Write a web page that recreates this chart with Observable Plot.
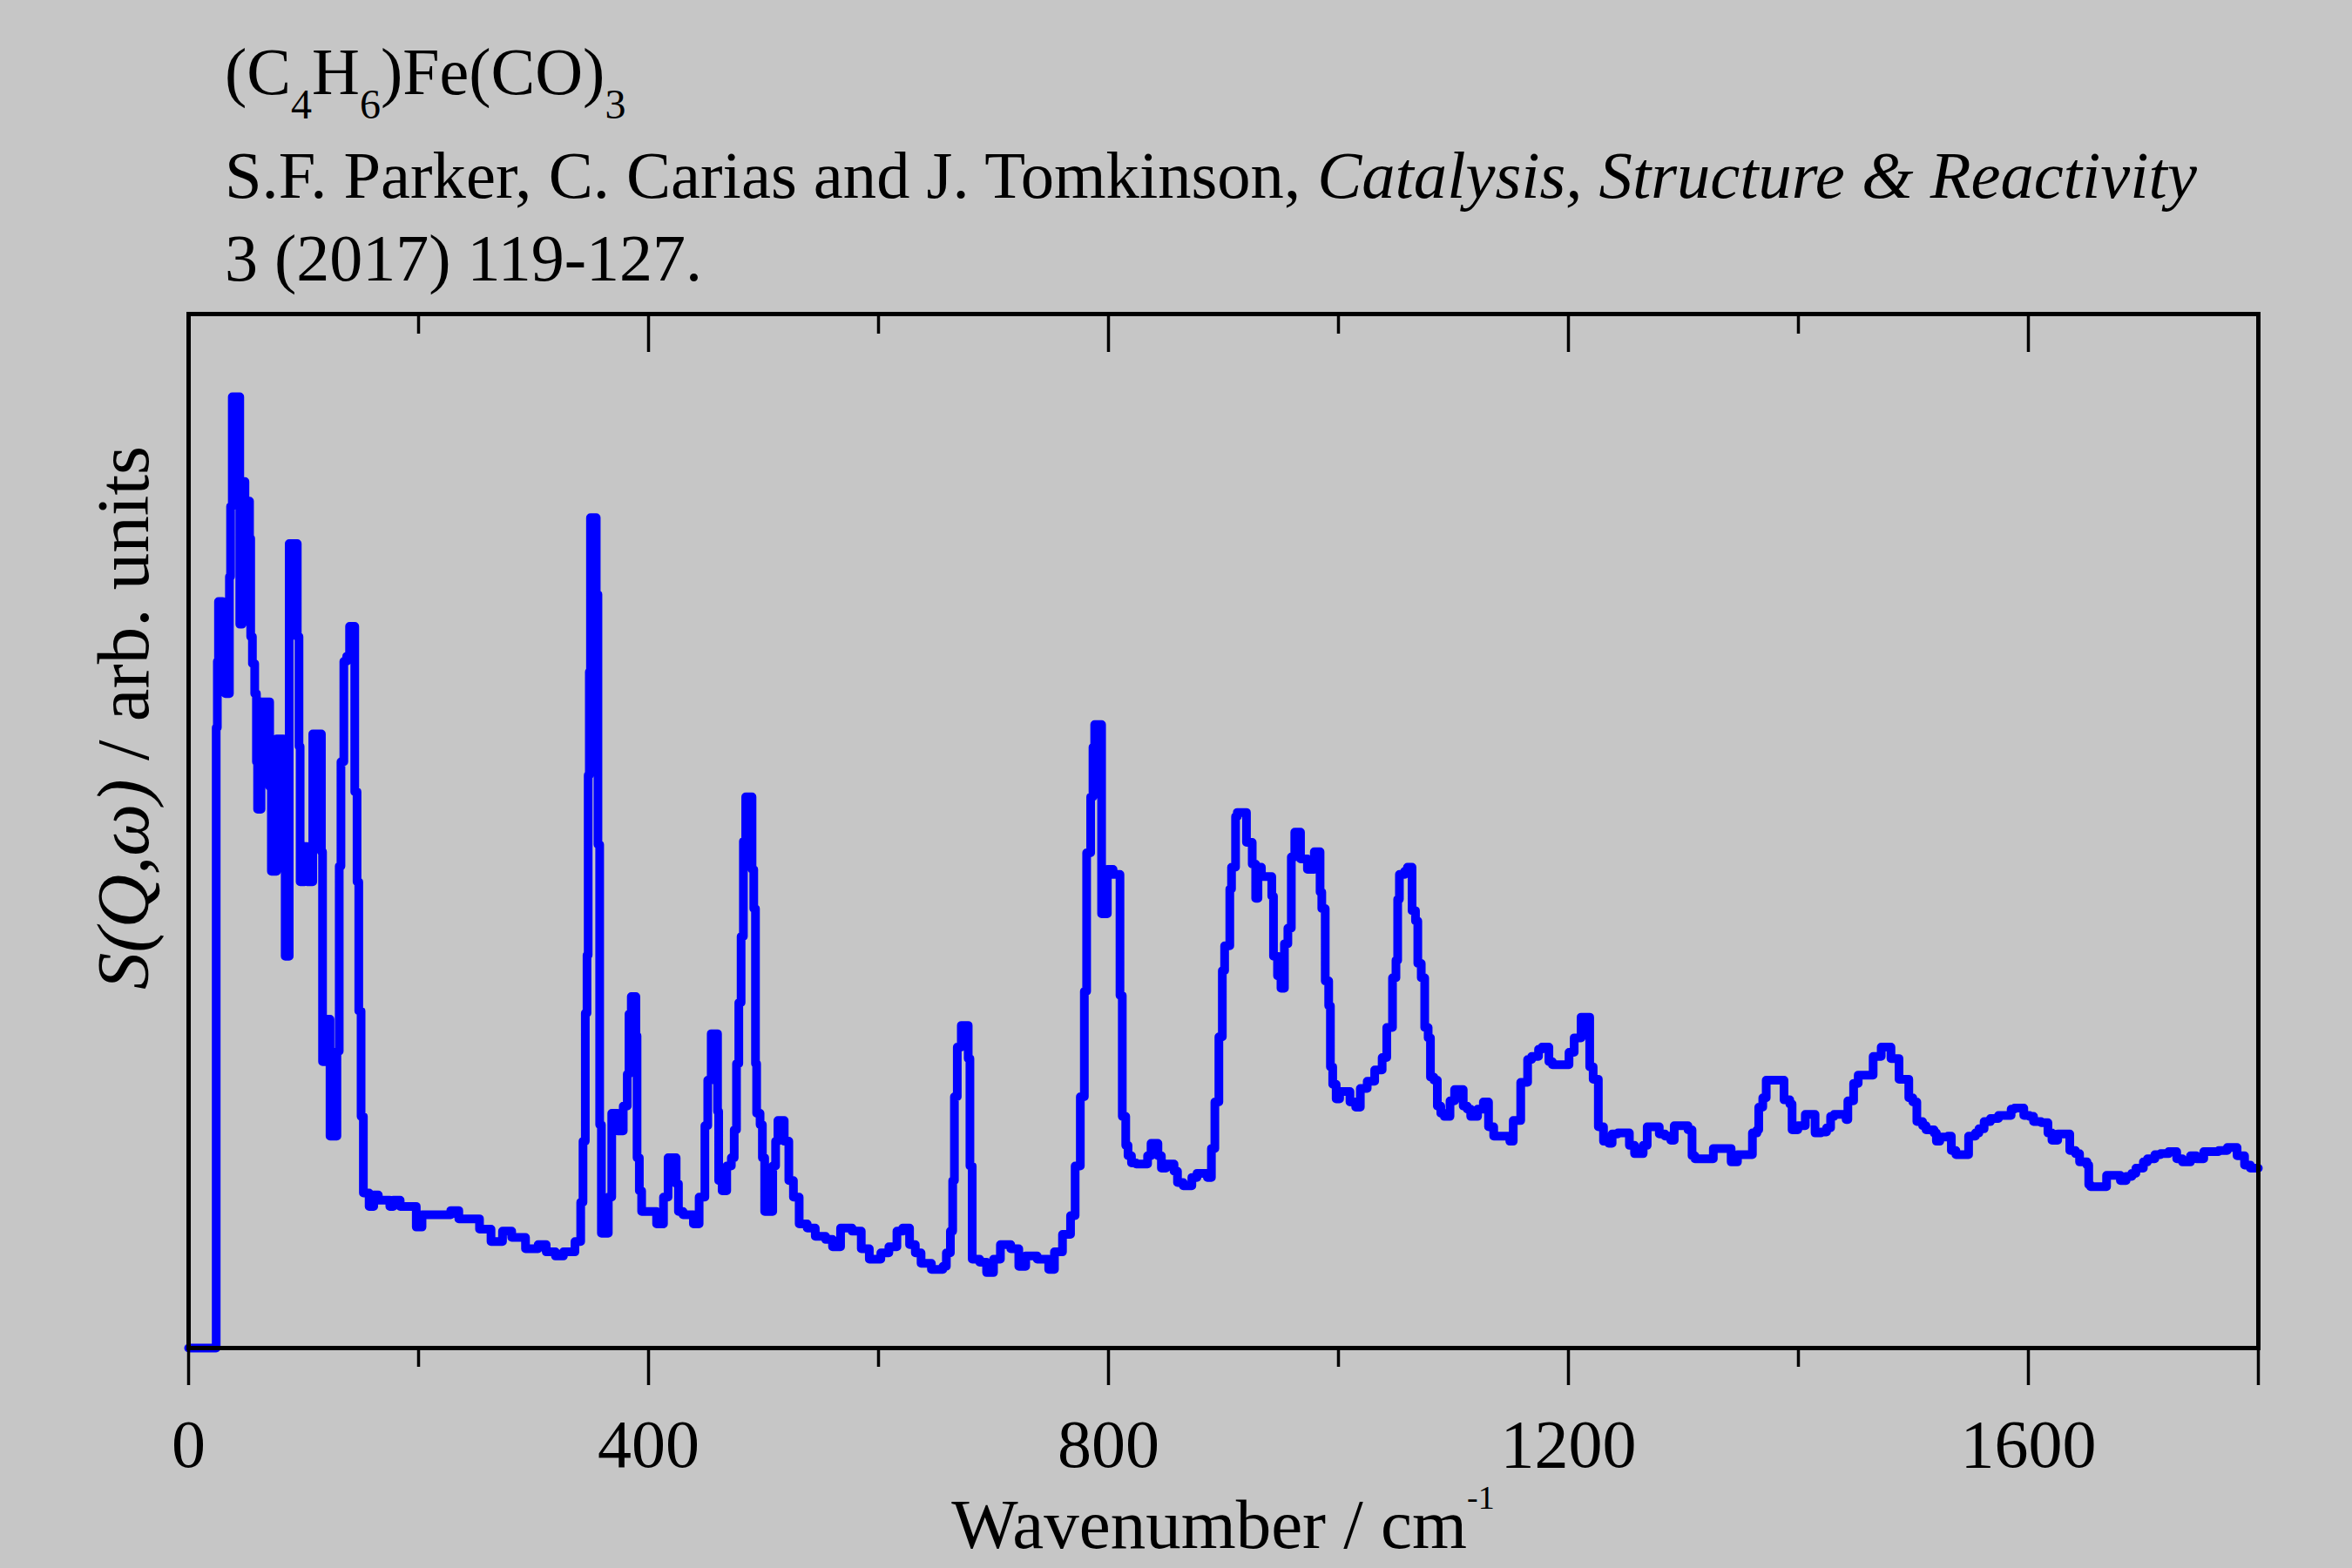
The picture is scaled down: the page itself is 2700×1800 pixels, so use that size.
<!DOCTYPE html>
<html><head><meta charset="utf-8">
<script src="https://cdn.jsdelivr.net/npm/d3@7"></script>
<script src="https://cdn.jsdelivr.net/npm/@observablehq/plot@0.6"></script>
<style>
html,body{margin:0;padding:0;background:#c6c6c6;}
#chart{width:2700px;height:1800px;}
</style></head><body><div id="chart"></div>
<script>
const wavenumber = [0,23,24,25,26,29.5,32,35.5,36.5,38,44.5,46.5,49,53,54,55.5,57.5,59,60,63,70.5,72,76.5,82.5,84,87.5,94.5,96,97,101,103,108,115.5,116.5,119,123,129,131,132.5,135,137.5,140,144.5,146.5,148,150,152,157,161,165,175,178,184,198,203,228,235,253,263,273,281,293,304,311,319,326,336,341,343,345,346.5,347.5,348.5,349.5,354.5,356,357.5,359,365,368,373,378,381.5,383,385,389,390,392,394,407,413,417,424,426,430,439,444,449,451.5,454.5,460,461,464,468,472,474.5,476.5,478.5,480.5,482.5,484.5,490,491.5,493,494,497,499,501,508,510.5,512.5,518,522,526,531,538,545,554,560,567,577,585,592,602,609,616,621,627,632,637,646,656,659,662.5,664.5,666,668.5,672,678,679.5,681.5,688,694,700,706,715,722,728,738,748,753,760,767,771,775.5,779,781,784.5,786.5,788,794,799,804,810,812,815,817,820,824,834,837,843,846,850,857,860,865,872.5,877,886,889.5,892.5,896,899,901,905.5,907,910.5,912,920,925,928,930,933,942,943.5,947,950,953,956,959,962,967,973,979,984,985.5,988.5,991.5,993,995,998,1001,1010,1015,1019,1025,1031.5,1038,1042,1047,1050,1051.5,1053,1057.5,1060,1064,1067,1069,1072,1075,1078,1080,1083,1086,1089,1092,1097,1101,1108.5,1112,1115,1121,1126,1130.5,1135,1149,1152,1158.5,1164.5,1168,1174,1177,1183,1186,1200.5,1205,1211,1218.5,1221.5,1226,1230.5,1235,1238,1243,1253,1257.5,1265,1268.5,1279,1284,1289,1292,1304,1307.5,1310,1326,1341.5,1347,1360,1364,1365.5,1369,1372,1387.5,1392.5,1394.5,1399.5,1406,1414.5,1419.5,1424.5,1428,1431,1441.5,1443,1448,1452,1465,1472,1480.5,1487.5,1496,1499.5,1503,1508,1511,1518,1520,1523,1530,1533,1537,1548,1554,1557,1561.5,1567,1574,1585,1588,1596,1601,1604.5,1611,1617,1620.5,1625.5,1636,1641,1644.5,1651,1652.5,1654,1668,1680,1685,1690,1693.5,1700,1703.5,1710,1715,1722,1729,1734,1741,1746,1752.5,1765.5,1773,1781.5,1788,1793,1800];
const intensity = [0,0,60,66.4,72.2,64,63.3,74.6,81.4,92,70,83.8,81.9,78.3,68.8,66.2,63.3,56.7,52.1,62.5,54.3,46.1,58.9,55.8,37.9,77.8,68.8,58.2,45.1,48.5,45.1,59.4,48,27.7,31.8,20.5,28.7,46.6,56.7,66.4,66.9,69.8,53.8,45.1,32.6,22.4,15,13.7,14.8,14.3,13.7,14.3,13.7,11.7,12.9,13.3,12.5,11.5,10.3,11.3,10.7,9.6,10,9.3,8.9,9.3,10.3,14.1,20,32.4,38,55.4,65.4,80.3,72.9,48.7,21.6,11.1,14.6,22.7,21,23.4,26.5,32.3,34,30.2,18.4,15.2,13.2,12,14.6,18.4,15.9,13.2,12.9,12,14.6,21.5,25.9,30.4,22.9,16.2,15.2,17.6,18.4,21.1,27.5,33.4,39.8,49,53.3,46.3,42.5,27.5,22.7,21.6,18.4,13.2,17.6,20,22,20,16.2,14.6,12,11.6,10.8,10.5,9.8,11.6,11.3,9.6,8.6,9.2,9.8,11.3,11.6,10,9.2,8.2,7.6,7.9,9.2,11.3,16.2,24.3,29.1,31.2,28,17.6,8.6,8.3,7.3,8.6,10,9.6,7.9,8.9,8.6,7.6,9.3,11,12.8,17.6,24.3,34.5,47.9,53.3,58.1,60.3,42,46.3,45.8,34.1,22.4,19.6,18.6,17.9,17.8,18.6,19.8,18.6,17.4,17.8,17.1,16,15.7,16.5,16.9,16.5,19.3,23.8,30.1,36.5,38.9,44.4,46.5,51.4,51.8,48.9,46.8,43.5,46.5,45.6,43.7,37.9,36,34.8,39.1,40.6,47.5,49.9,47.3,46.3,48,44.1,42.5,35.5,33.1,27.2,25.5,24.1,24.8,23.8,23.3,25.1,25.8,26.9,28.1,31,35.8,37.5,43.4,45.8,46.1,46.5,42.3,41.3,37.2,35.8,31,30,26.2,25.9,23.4,22.7,22.4,23.9,25,23.4,23.1,22.4,23.1,23.8,21.4,20.5,20,22,25.7,27.9,28.2,28.9,29.1,27.7,27.4,28.6,30,32,27.2,26,21.4,20,19.8,20.7,20.8,19.6,18.8,19.6,21.4,20.7,20.5,20.1,21.5,21.1,18.6,18.3,19.3,18,18.7,20.8,21.1,23.3,24.2,25.9,24,23.6,21.1,21.5,22.6,20.8,20.9,21.3,22.4,22.6,22.1,23.9,25.6,26.4,28.2,29.1,28,26,24.2,23.8,21.9,21.5,21.1,20.8,20,20.4,20.5,19.1,18.7,20.5,20.8,21.2,21.9,22.2,22.5,23.1,23.2,22.5,22.4,21.9,21.8,20.8,20.1,20.7,19.1,18.8,18,17.7,15.8,15.6,16.7,16.2,16.6,16.9,17.4,18,18.3,18.7,18.8,19,18.3,18,18.6,18.3,19,19.1,19.4,18.6,17.7,17.4,17.4];
const majorTicks = [0,400,800,1200,1600,1800];
const minorTicks = [200,600,1000,1400];
const tickLabels = ["0","400","800","1200","1600",""];

const data = wavenumber.map((x, i) => ({x, y: intensity[i]}));
const font = "'Liberation Serif','Times New Roman',serif";

const plot = Plot.plot({
  width: 2700, height: 1800,
  marginLeft: 216, marginRight: 108, marginTop: 360, marginBottom: 253,
  style: {background: "#c6c6c6", fontFamily: font, color: "black", overflow: "visible"},
  x: {domain: [0, 1800]},
  y: {domain: [0, 100], axis: null},
  marks: [
    Plot.line(data, {x: "x", y: "y", stroke: "#0000ff", strokeWidth: 10, curve: "step-after", strokeLinejoin: "round"}),
    Plot.axisX(majorTicks, {anchor: "bottom", tickSize: 43, strokeWidth: 3.5, tickPadding: 38,
      tickFormat: d => tickLabels[majorTicks.indexOf(d)], fontSize: 78, fontFamily: font, fill: "black", label: null}),
    Plot.axisX(minorTicks, {anchor: "bottom", tickSize: 22, strokeWidth: 3.5, fill: "none", label: null}),
    Plot.axisX(majorTicks, {anchor: "top", tickSize: 43, dy: 43, strokeWidth: 3.5, fill: "none", label: null}),
    Plot.axisX(minorTicks, {anchor: "top", tickSize: 22, dy: 22, strokeWidth: 3.5, fill: "none", label: null}),
    Plot.frame({stroke: "black", strokeWidth: 5})
  ]
});
document.getElementById("chart").appendChild(plot);

const svg = d3.select(plot);
function rich(x, y, size, parts, transform) {
  const t = svg.append("text").attr("x", x).attr("y", y)
    .attr("font-family", font).attr("font-size", size).attr("fill", "black")
    .attr("text-anchor", "start");
  if (transform) t.attr("transform", transform).attr("x", 0).attr("y", 0).attr("text-anchor", "middle");
  let shift = 0;
  for (const p of parts) {
    const s = t.append("tspan").text(p.t);
    const target = p.sub ? p.sub : p.sup ? -p.sup : 0;
    s.attr("dy", target - shift);
    shift = target;
    if (p.size) s.attr("font-size", p.size);
    if (p.italic) s.attr("font-style", "italic");
  }
  return t;
}
rich(258, 108, 76, [
  {t: "(C"}, {t: "4", sub: 28, size: 48}, {t: "H"}, {t: "6", sub: 28, size: 48},
  {t: ")Fe(CO)"}, {t: "3", sub: 28, size: 48}
]);
rich(258, 227, 76.6, [
  {t: "S.F. Parker, C. Carias and J. Tomkinson, "},
  {t: "Catalysis, Structure & Reactivity", italic: true}
]);
rich(258, 322, 76, [{t: "3 (2017) 119-127."}]);
rich(0, 0, 81, [{t: "Wavenumber / cm"}, {t: "-1", sup: 45, size: 38}], "translate(1404,1777)");
rich(0, 0, 85, [{t: "S(Q,ω)", italic: true}, {t: " / arb. units"}], "translate(170,824) rotate(-90)");
</script></body></html>
